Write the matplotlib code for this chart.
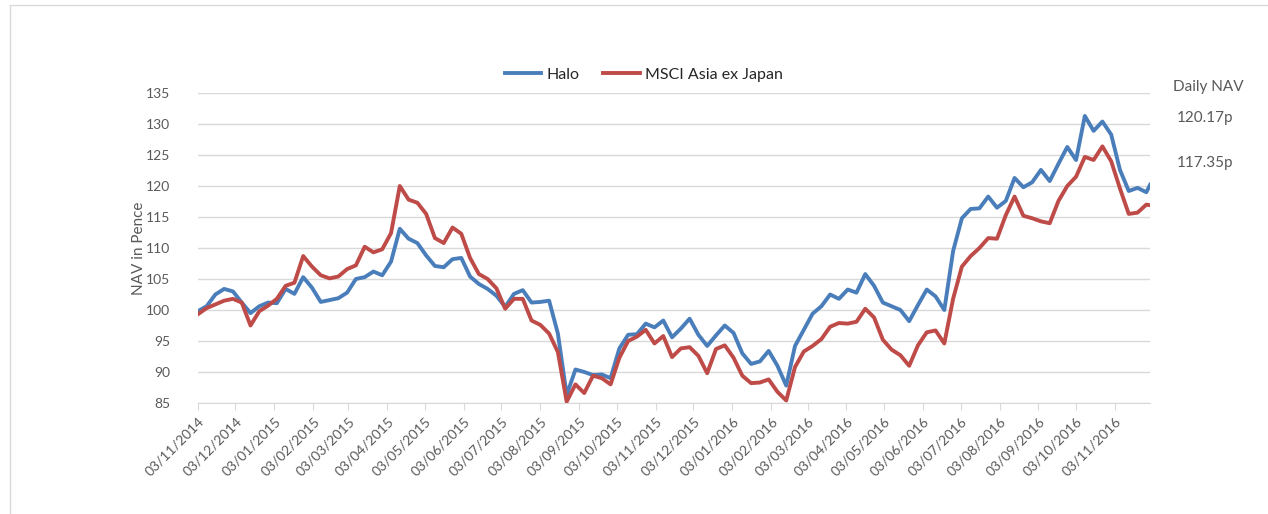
import matplotlib
matplotlib.use("Agg")
import matplotlib.pyplot as plt
import matplotlib.dates as mdates
import pandas as pd
from matplotlib.patches import Rectangle

# weekly readings (Mondays) from 03/11/2014, plus the last day shown
dates = list(pd.date_range("2014-11-03", periods=109, freq="7D")) + [pd.Timestamp("2016-12-01")]

halo = [
    99.8, 100.6, 102.5, 103.4, 103.0, 101.2, 99.5, 100.6, 101.2, 101.1,
    103.4, 102.6, 105.3, 103.6, 101.3, 101.6, 101.9, 102.8, 105.0, 105.3,
    106.2, 105.6, 107.8, 113.1, 111.5, 110.8, 108.8, 107.1, 106.9, 108.2,
    108.4, 105.4, 104.2, 103.4, 102.3, 100.5, 102.6, 103.2, 101.2, 101.3,
    101.5, 96.2, 86.3, 90.4, 90.0, 89.5, 89.6, 89.0, 93.8, 96.0,
    96.1, 97.8, 97.2, 98.3, 95.6, 97.0, 98.6, 96.0, 94.2, 95.9,
    97.5, 96.3, 93.0, 91.3, 91.7, 93.4, 91.0, 87.8, 94.2, 96.8,
    99.4, 100.6, 102.5, 101.8, 103.3, 102.8, 105.8, 103.9, 101.2, 100.6,
    100.0, 98.2, 100.8, 103.3, 102.2, 100.0, 109.5, 114.8, 116.3, 116.4,
    118.3, 116.5, 117.6, 121.3, 119.8, 120.6, 122.6, 120.8, 123.6, 126.3,
    124.2, 131.3, 128.9, 130.4, 128.3, 122.6, 119.2, 119.7, 119.0, 120.2,
]

msci = [
    99.3, 100.3, 100.9, 101.5, 101.8, 101.2, 97.5, 99.8, 100.7, 101.8,
    103.9, 104.4, 108.7, 107.0, 105.6, 105.1, 105.4, 106.6, 107.2, 110.2,
    109.3, 109.8, 112.4, 120.0, 117.8, 117.3, 115.5, 111.6, 110.8, 113.3,
    112.3, 108.4, 105.8, 105.0, 103.5, 100.2, 101.8, 101.8, 98.3, 97.6,
    96.2, 93.2, 85.2, 88.0, 86.6, 89.4, 89.0, 88.0, 92.3, 95.0,
    95.7, 96.8, 94.6, 95.8, 92.4, 93.8, 94.0, 92.6, 89.8, 93.7,
    94.3, 92.3, 89.4, 88.2, 88.3, 88.8, 86.8, 85.4, 90.8, 93.3,
    94.2, 95.3, 97.3, 97.9, 97.8, 98.1, 100.2, 98.8, 95.2, 93.6,
    92.7, 91.0, 94.3, 96.4, 96.7, 94.6, 101.8, 107.0, 108.7, 110.0,
    111.6, 111.5, 115.3, 118.3, 115.2, 114.8, 114.3, 114.0, 117.6, 120.0,
    121.5, 124.7, 124.2, 126.4, 124.0, 119.6, 115.5, 115.7, 117.0, 116.9,
]

tick_dates = pd.date_range("2014-11-01", "2016-11-03", freq="MS") + pd.Timedelta(days=2)
yticks = list(range(85, 136, 5))
nav_labels = ["Daily NAV", "120.17p", "117.35p"]

plt.rcParams["font.family"] = ["Lato", "DejaVu Sans"]
grey = "#595959"

fig = plt.figure(figsize=(12.68, 5.14), dpi=100)
ax = fig.add_axes([0.156, 0.216, 0.751, 0.603])

ax.plot(dates, halo, color="#4a7ebb", lw=2.8, label="Halo", solid_joinstyle="round")
ax.plot(dates, msci, color="#be4b48", lw=2.8, label="MSCI Asia ex Japan", solid_joinstyle="round")

ax.set_ylim(85, 135)
ax.set_xlim(dates[0], dates[-1])
ax.set_yticks(yticks)
ax.set_xticks(tick_dates)
ax.xaxis.set_major_formatter(mdates.DateFormatter("%d/%m/%Y"))
for lab in ax.get_xticklabels():
    lab.set_rotation(45)
    lab.set_ha("right")
    lab.set_rotation_mode("anchor")

ax.tick_params(axis="x", colors=grey, labelsize=10, length=5, direction="out", width=0.8)
ax.tick_params(axis="x", color="#d9d9d9")
ax.tick_params(axis="y", colors=grey, labelsize=10, length=0, pad=20)
ax.grid(axis="y", color="#d9d9d9", lw=1)
ax.set_axisbelow(True)
for side in ["top", "right", "left"]:
    ax.spines[side].set_visible(False)
ax.spines["bottom"].set_color("#d9d9d9")

ax.set_ylabel("NAV in Pence", color=grey, fontsize=11, labelpad=0)

leg = ax.legend(loc="lower center", bbox_to_anchor=(0.468, 1.0), ncol=2, frameon=False,
                fontsize=11.5, handlelength=2.3, handletextpad=0.3, columnspacing=1.5,
                borderaxespad=0.3)
for t in leg.get_texts():
    t.set_color("#262626")

fig.text(1173 / 1268, 1 - 87 / 514, nav_labels[0], color=grey, fontsize=11, va="center")
fig.text(1177 / 1268, 1 - 118 / 514, nav_labels[1], color=grey, fontsize=11, va="center")
fig.text(1177 / 1268, 1 - 163 / 514, nav_labels[2], color=grey, fontsize=11, va="center")

fig.patches.append(Rectangle((10 / 1268, -0.01), 1.0, 1 - 5 / 514 + 0.01,
                             transform=fig.transFigure, fill=False, ec="#d9d9d9", lw=1))

fig.savefig("out.png", dpi=100)
